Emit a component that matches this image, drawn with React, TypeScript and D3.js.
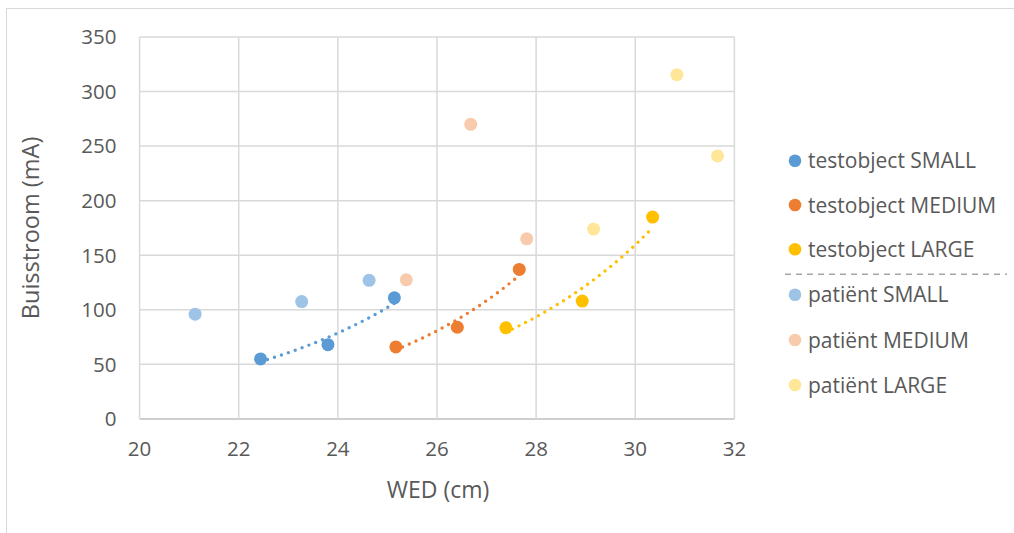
import React from "react";
import * as d3 from "d3";

// WED (cm) and tube current (mA) per series
const testSmallX = [22.44, 23.8, 25.14];
const testSmallY = [55, 68, 111];
const testMediumX = [25.17, 26.41, 27.66];
const testMediumY = [66, 84, 137];
const testLargeX = [27.39, 28.93, 30.35];
const testLargeY = [83.5, 108, 185];
const patientSmallX = [21.12, 23.27, 24.63];
const patientSmallY = [96, 107.5, 127];
const patientMediumX = [25.38, 26.68, 27.81];
const patientMediumY = [127.5, 270, 165];
const patientLargeX = [29.16, 30.84, 31.66];
const patientLargeY = [174, 315.5, 241];

const xTicks = [20, 22, 24, 26, 28, 30, 32];
const yTicks = [0, 50, 100, 150, 200, 250, 300, 350];

const seriesNames = [
  "testobject SMALL",
  "testobject MEDIUM",
  "testobject LARGE",
  "patiënt SMALL",
  "patiënt MEDIUM",
  "patiënt LARGE",
];
const seriesColors = ["#5B9BD5", "#ED7D31", "#FFC000", "#9DC3E6", "#F8CBAD", "#FFE699"];

const seriesData = [
  [testSmallX, testSmallY],
  [testMediumX, testMediumY],
  [testLargeX, testLargeY],
  [patientSmallX, patientSmallY],
  [patientMediumX, patientMediumY],
  [patientLargeX, patientLargeY],
];

// series that carry an exponential trendline
const trendSeries = [0, 1, 2];

const FONT = "'Open Sans', Lato, sans-serif";
const TEXT = "#595959";
const GRID = "#d9d9d9";

// least squares fit of ln(y) = ln(a) + b x, as a spreadsheet exponential trendline
function expFit(xs: number[], ys: number[]) {
  const n = xs.length;
  const ly = ys.map(Math.log);
  const mx = d3.mean(xs)!;
  const my = d3.mean(ly)!;
  let sxy = 0;
  let sxx = 0;
  for (let i = 0; i < n; i++) {
    sxy += (xs[i] - mx) * (ly[i] - my);
    sxx += (xs[i] - mx) ** 2;
  }
  const b = sxy / sxx;
  const a = Math.exp(my - b * mx);
  return (x: number) => a * Math.exp(b * x);
}

export default function App() {
  const x = d3.scaleLinear().domain([20, 32]).range([139.6, 734.4]);
  const y = d3.scaleLinear().domain([0, 350]).range([418.9, 37]);
  const line = d3
    .line<[number, number]>()
    .x((d) => x(d[0]))
    .y((d) => y(d[1]));

  const legendX = 795;
  const legendRows = [160.7, 205, 249.3, 294.7, 340, 385];

  return (
    <svg
      width={1014}
      height={533}
      style={{ position: "absolute", left: 0, top: 0, display: "block", background: "#fff" }}
    >
      <rect x={6.5} y={8.5} width={1020} height={540} fill="#fff" stroke={GRID} strokeWidth={1} />

      {/* gridlines */}
      {yTicks.map((t) => (
        <line
          key={"gy" + t}
          x1={x(20)}
          x2={x(32)}
          y1={y(t)}
          y2={y(t)}
          stroke={t === 0 ? "#bfbfbf" : GRID}
          strokeWidth={1.5}
        />
      ))}
      {xTicks.map((t) => (
        <line key={"gx" + t} x1={x(t)} x2={x(t)} y1={y(0)} y2={y(350)} stroke={GRID} strokeWidth={1.5} />
      ))}

      {/* tick labels */}
      {yTicks.map((t) => (
        <text
          key={"ty" + t}
          x={116.5}
          y={y(t)}
          dy="0.36em"
          textAnchor="end"
          fontFamily={FONT}
          fontSize={20.5}
          fill={TEXT}
        >
          {t}
        </text>
      ))}
      {xTicks.map((t) => (
        <text
          key={"tx" + t}
          x={x(t)}
          y={449}
          dy="0.36em"
          textAnchor="middle"
          fontFamily={FONT}
          fontSize={20.5}
          fill={TEXT}
        >
          {t}
        </text>
      ))}

      {/* axis titles */}
      <text x={438} y={490} dy="0.36em" textAnchor="middle" fontFamily={FONT} fontSize={23} fill={TEXT}>
        WED (cm)
      </text>
      <text
        transform={`translate(31,${(y(0) + y(350)) / 2}) rotate(-90)`}
        dy="0.36em"
        textAnchor="middle"
        fontFamily={FONT}
        fontSize={23.5}
        fill={TEXT}
      >
        Buisstroom (mA)
      </text>

      {/* exponential trendlines */}
      {trendSeries.map((si) => {
        const [xs, ys] = seriesData[si];
        const f = expFit(xs, ys);
        const x0 = d3.min(xs)!;
        const x1 = d3.max(xs)!;
        const pts: [number, number][] = d3.range(0, 41).map((i) => {
          const xv = x0 + ((x1 - x0) * i) / 40;
          return [xv, f(xv)];
        });
        return (
          <path
            key={"tr" + si}
            d={line(pts)!}
            fill="none"
            stroke={seriesColors[si]}
            strokeWidth={3.4}
            strokeLinecap="round"
            strokeDasharray="0 7.3"
          />
        );
      })}

      {/* markers */}
      {seriesData.map(([xs, ys], si) =>
        xs.map((xv, i) => (
          <circle
            key={`m${si}-${i}`}
            cx={x(xv)}
            cy={y(ys[i])}
            r={6.5}
            fill={seriesColors[si]}
          />
        ))
      )}

      {/* legend */}
      {seriesNames.map((name, i) => (
        <g key={"lg" + i}>
          <circle cx={legendX} cy={legendRows[i]} r={6.3} fill={seriesColors[i]} />
          <text
            x={808}
            y={legendRows[i]}
            dy="0.36em"
            fontFamily={FONT}
            fontSize={21}
            fill={TEXT}
          >
            {name}
          </text>
        </g>
      ))}
      <line
        x1={785}
        x2={1007}
        y1={274.3}
        y2={274.3}
        stroke="#a6a6a6"
        strokeWidth={1.5}
        strokeDasharray="6 5"
      />
    </svg>
  );
}
